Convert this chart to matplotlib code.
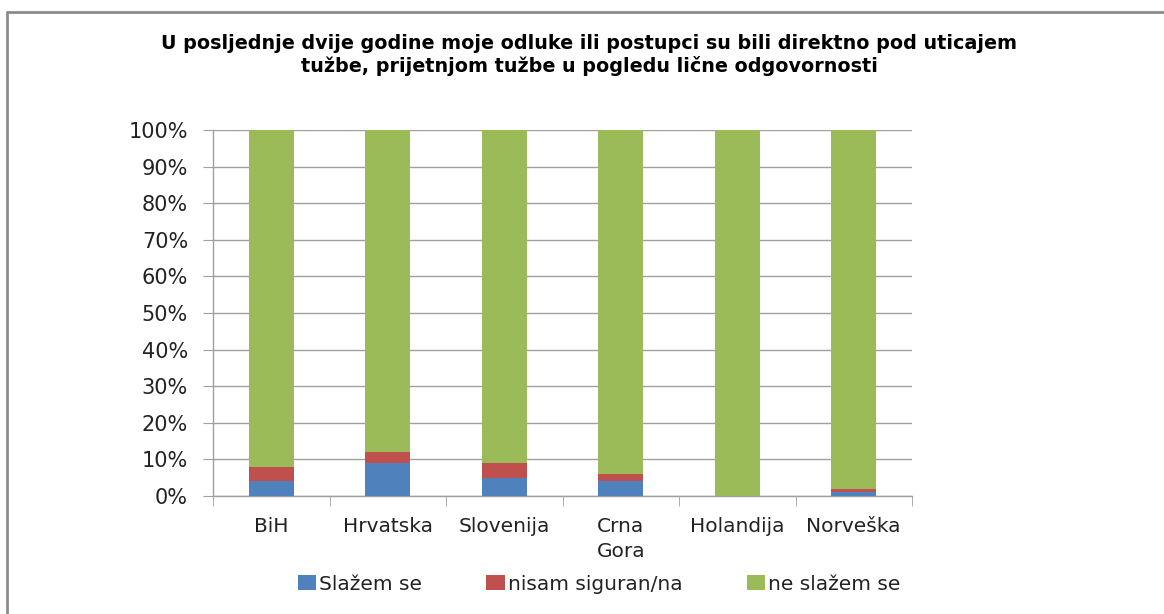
import matplotlib
matplotlib.use("Agg")
import matplotlib.pyplot as plt
from matplotlib.patches import Rectangle
from matplotlib.ticker import FixedLocator, PercentFormatter
import numpy as np

categories = ["BiH", "Hrvatska", "Slovenija", "Crna\nGora", "Holandija", "Norveška"]
slazem = [4, 9, 5, 4, 0, 1]
nisam = [4, 3, 4, 2, 0, 1]
ne_slazem = [92, 88, 91, 94, 100, 98]
series_names = ["Slažem se", "nisam siguran/na", "ne slažem se"]
colors = ["#4F81BD", "#C0504D", "#9BBB59"]
title = ("U posljednje dvije godine moje odluke ili postupci su bili direktno pod uticajem\n"
         "tužbe, prijetnjom tužbe u pogledu lične odgovornosti")

FONT = "DejaVu Sans"
fig = plt.figure(figsize=(11.64, 6.14), dpi=100)
ax = fig.add_axes([213/1164, 1-496/614, (912-213)/1164, (496-130)/614])

x = np.arange(len(categories))
w = 0.39
b1 = ax.bar(x, slazem, w, color=colors[0], label=series_names[0], zorder=3)
bottom2 = np.array(slazem)
b2 = ax.bar(x, nisam, w, bottom=bottom2, color=colors[1], label=series_names[1], zorder=3)
bottom3 = bottom2 + np.array(nisam)
b3 = ax.bar(x, ne_slazem, w, bottom=bottom3, color=colors[2], label=series_names[2], zorder=3)

ax.set_xlim(-0.5, len(categories) - 0.5)
ax.set_ylim(0, 100)
ax.set_yticks(np.arange(0, 101, 10))
ax.yaxis.set_major_formatter(PercentFormatter(decimals=0))
ax.grid(axis="y", color="#A0A0A0", linewidth=1.0, zorder=0)
for s in ["top", "right"]:
    ax.spines[s].set_visible(False)
for s in ["left", "bottom"]:
    ax.spines[s].set_color("#A0A0A0")
    ax.spines[s].set_linewidth(1.0)

ax.set_xticks(x)
ax.set_xticklabels(categories, fontsize=14.5, family=FONT, color="#222222", linespacing=1.4)
ax.xaxis.set_minor_locator(FixedLocator(np.arange(-0.5, len(categories), 1)))
ax.tick_params(axis="x", which="major", length=0, pad=15)
ax.tick_params(axis="x", which="minor", length=7, color="#A0A0A0", direction="out")
ax.tick_params(axis="y", length=7, color="#A0A0A0", direction="out", pad=11, labelsize=15)
for lab in ax.get_yticklabels():
    lab.set_family(FONT)
    lab.set_color("#222222")

fig.text(589/1164, 1-55/614, title, ha="center", va="center", fontsize=13.8,
         fontweight="bold", family=FONT, linespacing=1.22)

leg = fig.legend(handles=[b1, b2, b3], labels=series_names, loc="center",
                 bbox_to_anchor=(599/1164, 1-584/614), ncol=3, frameon=False,
                 prop={"family": FONT, "size": 14.5}, handlelength=0.9, handleheight=0.75,
                 handletextpad=0.15, columnspacing=3.2)
for t in leg.get_texts():
    t.set_color("#222222")

fig.patches.append(Rectangle((7/1164, -0.1), 1.2, 1 - 12/614 + 0.1, transform=fig.transFigure,
                             fill=False, edgecolor="#8C8C8C", linewidth=2.0))

fig.savefig("out.png", dpi=100)
